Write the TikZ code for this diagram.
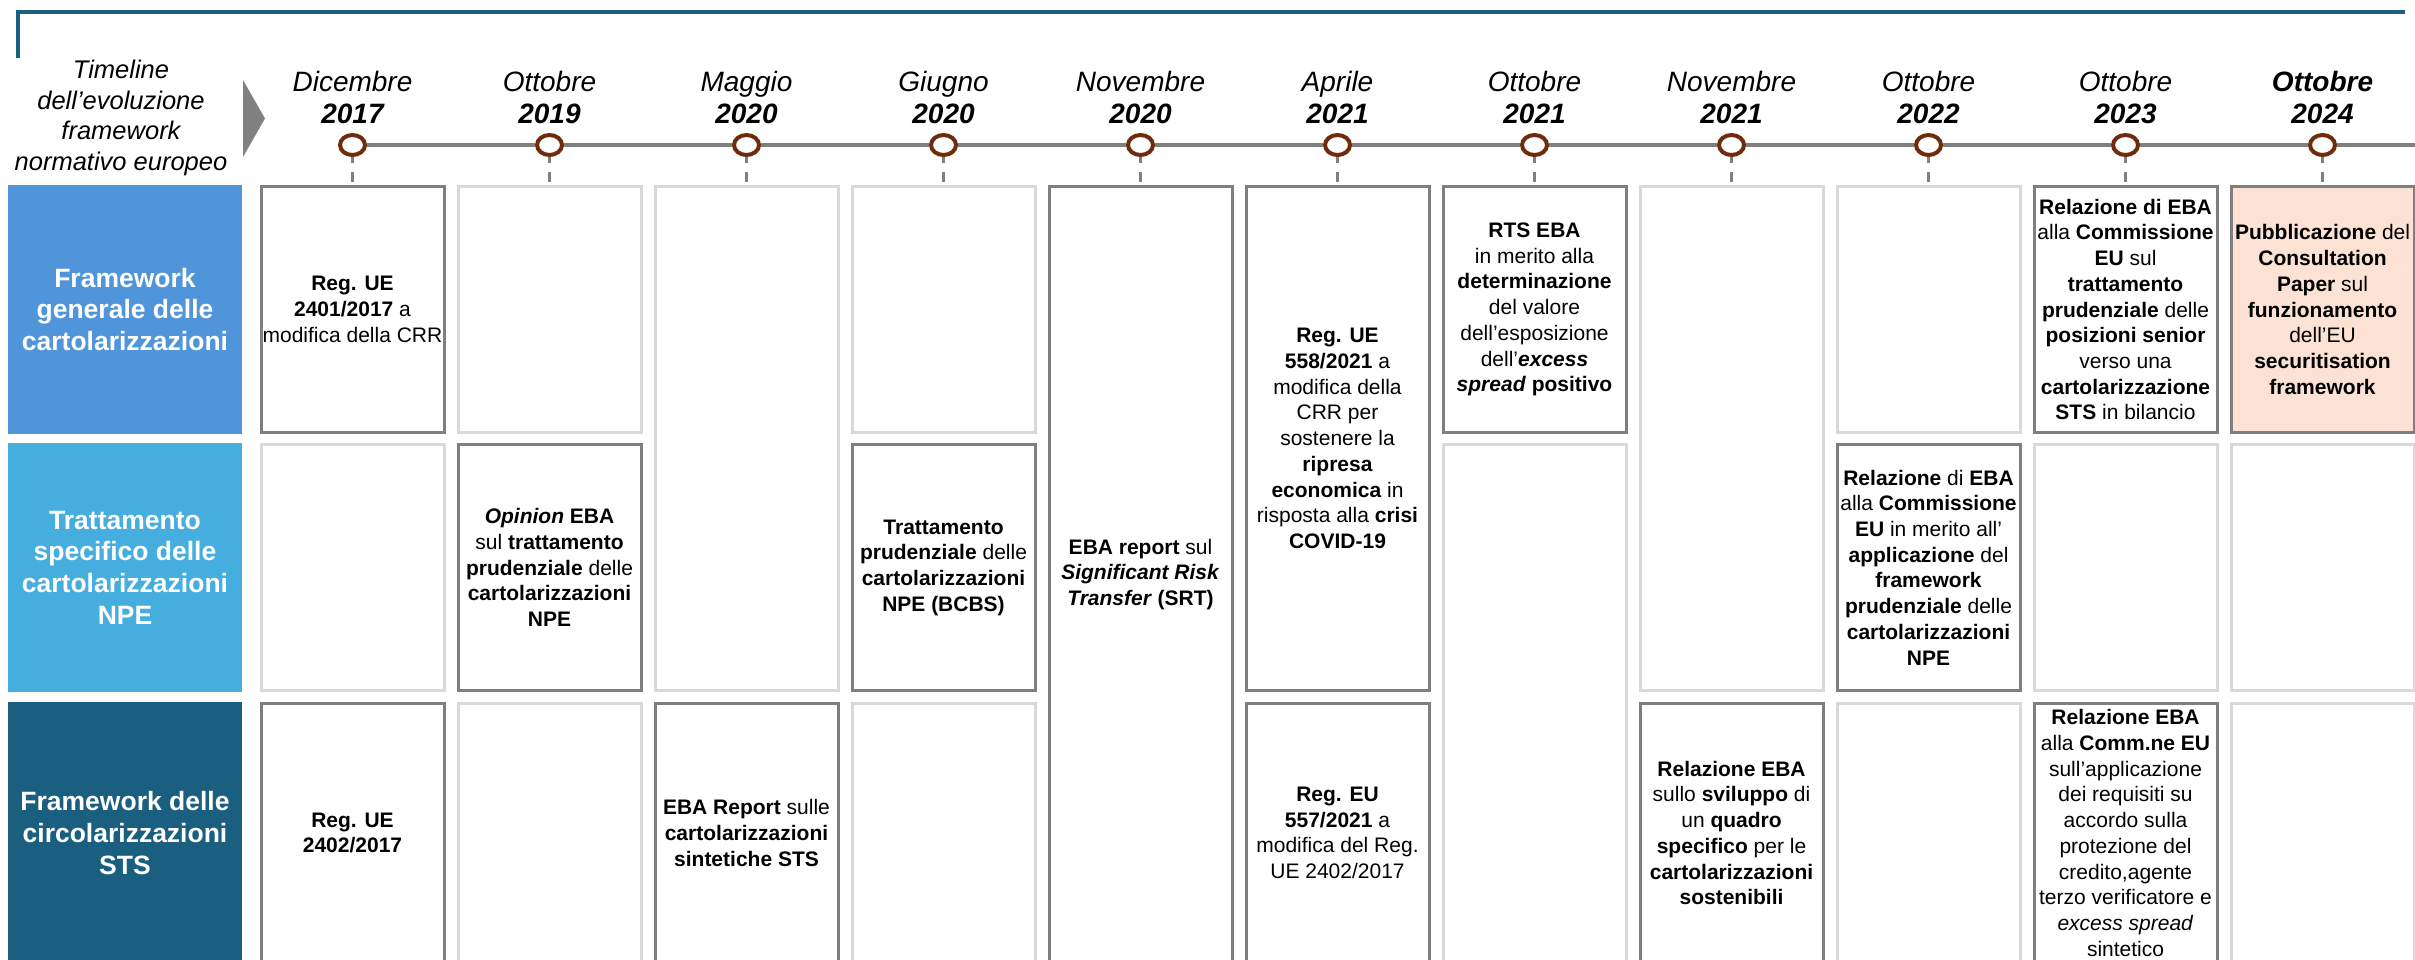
\documentclass[tikz,border=0pt]{standalone}
\usepackage{fontspec}
\setmainfont{Liberation Sans}
\usetikzlibrary{shapes.geometric}
\definecolor{bordoscuro}{HTML}{7F7F7F}
\definecolor{bordochiaro}{HTML}{D9D9D9}
\definecolor{grigio}{HTML}{808080}
\definecolor{marrone}{HTML}{6E2C0C}
\definecolor{pesca}{HTML}{FBE2D5}
\definecolor{blu}{HTML}{5094D9}
\definecolor{azzurro}{HTML}{46AEDF}
\definecolor{petrolio}{HTML}{1A5F80}

\begin{document}
\begin{tikzpicture}[x=1pt, y=-1pt]
			\tikzstyle{every node}=[inner sep=0pt, align=center]
			\tikzstyle{cella}=[draw=bordoscuro, line width=3pt, fill=white, minimum width=183pt, font=\fontsize{21}{25.7}\selectfont]
			\tikzstyle{vuota}=[cella, draw=bordochiaro]
			\tikzstyle{riga}=[minimum width=234pt, text=white, font=\bfseries\fontsize{26.5}{31.7}\selectfont]
			\tikzstyle{mese}=[anchor=base, font=\itshape\fontsize{28}{32}\selectfont]
			\tikzstyle{anno}=[mese, font=\bfseries\itshape\fontsize{28}{32}\selectfont]
			\tikzstyle{punto}=[ellipse, draw=marrone, line width=4pt, fill=white, minimum width=25pt, minimum height=20pt]
			\tikzstyle{asse}=[draw=grigio, line width=3.5pt]
			\tikzstyle{tacca}=[draw=grigio, line width=2.5pt, dash pattern=on 6pt off 9pt on 10pt off 9pt]
			\tikzstyle{h1}=[minimum height=246pt]
			\tikzstyle{h3}=[minimum height=259pt]
			\useasboundingbox (0,0) rectangle (2415,959);
			\clip (0,0) rectangle (2415,959);
			% cornice e titolo
			\draw [petrolio, line width=3.5pt] (18,58) -- (18,12) -- (2405,12);
			\node [font=\itshape\fontsize{25.5}{30.7}\selectfont] (titolo) at (121,118) {Timeline\\dell’evoluzione\\framework\\normativo europeo};
			\fill [grigio] (243,80) -- (265,118.5) -- (243,157) -- cycle;
			% etichette delle righe
			\node [riga, fill=blu, minimum height=249pt] (r1) at (125,309.5) {Framework\\generale delle\\cartolarizzazioni};
			\node [riga, fill=azzurro, minimum height=249pt] (r2) at (125,567.5) {Trattamento\\specifico delle\\cartolarizzazioni\\NPE};
			\node [riga, fill=petrolio, minimum height=262pt] (r3) at (125,833) {Framework delle\\circolarizzazioni\\STS};
			% Dicembre 2017
			\node [cella, h1] (a1) at (352.5,309.5) {\textbf{Reg. UE}\\\textbf{2401/2017} a\\modifica della CRR};
			\node [vuota, h1] (b1) at (352.5,567.5) {};
			\node [cella, h3] (c1) at (352.5,833) {\textbf{Reg. UE}\\\textbf{2402/2017}};
			% Ottobre 2019
			\node [vuota, h1] (a2) at (549.5,309.5) {};
			\node [cella, h1] (b2) at (549.5,567.5) {\textbf{\textit{Opinion}} \textbf{EBA}\\sul \textbf{trattamento}\\\textbf{prudenziale} delle\\\textbf{cartolarizzazioni}\\\textbf{NPE}};
			\node [vuota, h3] (c2) at (549.5,833) {};
			% Maggio 2020
			\node [vuota, minimum height=504pt] (a3) at (746.5,438.5) {};
			\node [cella, h3] (c3) at (746.5,833) {\textbf{EBA Report} sulle\\\textbf{cartolarizzazioni}\\\textbf{sintetiche STS}};
			% Giugno 2020
			\node [vuota, h1] (a4) at (943.5,309.5) {};
			\node [cella, h1] (b4) at (943.5,567.5) {\textbf{Trattamento}\\\textbf{prudenziale} delle\\\textbf{cartolarizzazioni}\\\textbf{NPE (BCBS)}};
			\node [vuota, h3] (c4) at (943.5,833) {};
			% Novembre 2020
			\node [cella, minimum height=776pt] (a5) at (1140.5,574.5) {\textbf{EBA report} sul\\\textbf{\textit{Significant Risk}}\\\textbf{\textit{Transfer}} \textbf{(SRT)}};
			% Aprile 2021
			\node [cella, minimum height=504pt] (a6) at (1337.5,438.5) {\textbf{Reg. UE}\\\textbf{558/2021} a\\modifica della\\CRR per\\sostenere la\\\textbf{ripresa}\\\textbf{economica} in\\risposta alla \textbf{crisi}\\\textbf{COVID-19}};
			\node [cella, h3] (c6) at (1337.5,833) {\textbf{Reg. EU}\\\textbf{557/2021} a\\modifica del Reg.\\UE 2402/2017};
			% Ottobre 2021
			\node [cella, h1] (a7) at (1534.5,309.5) {\textbf{RTS EBA}\\in merito alla\\\textbf{determinazione}\\del valore\\dell’esposizione\\dell’\textbf{\textit{excess}}\\\textbf{\textit{spread}} \textbf{positivo}};
			\node [vuota, minimum height=518pt] (b7) at (1534.5,703.5) {};
			% Novembre 2021
			\node [vuota, minimum height=504pt] (a8) at (1731.5,438.5) {};
			\node [cella, h3] (c8) at (1731.5,833) {\textbf{Relazione EBA}\\sullo \textbf{sviluppo} di\\un \textbf{quadro}\\\textbf{specifico} per le\\\textbf{cartolarizzazioni}\\\textbf{sostenibili}};
			% Ottobre 2022
			\node [vuota, h1] (a9) at (1928.5,309.5) {};
			\node [cella, h1] (b9) at (1928.5,567.5) {\textbf{Relazione} di \textbf{EBA}\\alla \textbf{Commissione}\\\textbf{EU} in merito all’\\\textbf{applicazione} del\\\textbf{framework}\\\textbf{prudenziale} delle\\\textbf{cartolarizzazioni}\\\textbf{NPE}};
			\node [vuota, h3] (c9) at (1928.5,833) {};
			% Ottobre 2023
			\node [cella, h1] (a10) at (2125.5,309.5) {\textbf{Relazione di EBA}\\alla \textbf{Commissione}\\\textbf{EU} sul\\\textbf{trattamento}\\\textbf{prudenziale} delle\\\textbf{posizioni senior}\\verso una\\\textbf{cartolarizzazione}\\\textbf{STS} in bilancio};
			\node [vuota, h1] (b10) at (2125.5,567.5) {};
			\node [cella, h3] (c10) at (2125.5,833) {\textbf{Relazione EBA}\\alla \textbf{Comm.ne EU}\\sull’applicazione\\dei requisiti su\\accordo sulla\\protezione del\\credito,agente\\terzo verificatore e\\\textit{excess spread}\\sintetico};
			% Ottobre 2024
			\node [cella, h1, fill=pesca] (a11) at (2322.5,309.5) {\textbf{Pubblicazione} del\\\textbf{Consultation}\\\textbf{Paper} sul\\\textbf{funzionamento}\\dell’EU\\\textbf{securitisation}\\\textbf{framework}};
			\node [vuota, h1] (b11) at (2322.5,567.5) {};
			\node [vuota, h3] (c11) at (2322.5,833) {};
			% date
			\foreach \x/\m/\a [count=\i] in {352.5/Dicembre/2017, 549.5/Ottobre/2019, 746.5/Maggio/2020, 943.5/Giugno/2020, 1140.5/Novembre/2020, 1337.5/Aprile/2021, 1534.5/Ottobre/2021, 1731.5/Novembre/2021, 1928.5/Ottobre/2022, 2125.5/Ottobre/2023, 2322.5/{\textbf{Ottobre}}/2024} {
				\node [mese] (m\i) at (\x,91) {\m};
				\node [anno] (y\i) at (\x,123) {\a};
				\node [punto] (d\i) at (\x,145) {};
			}
			\coordinate (fine) at (2415,145);
			\foreach \j [count=\i] in {2,...,11}
				\draw [asse] (d\i) -- (d\j);
			\draw [asse] (d11) -- (fine);
			\foreach \i in {1,...,11}
				\draw [tacca] (d\i) -- (a\i.north);
	\end{tikzpicture}
\end{document}
